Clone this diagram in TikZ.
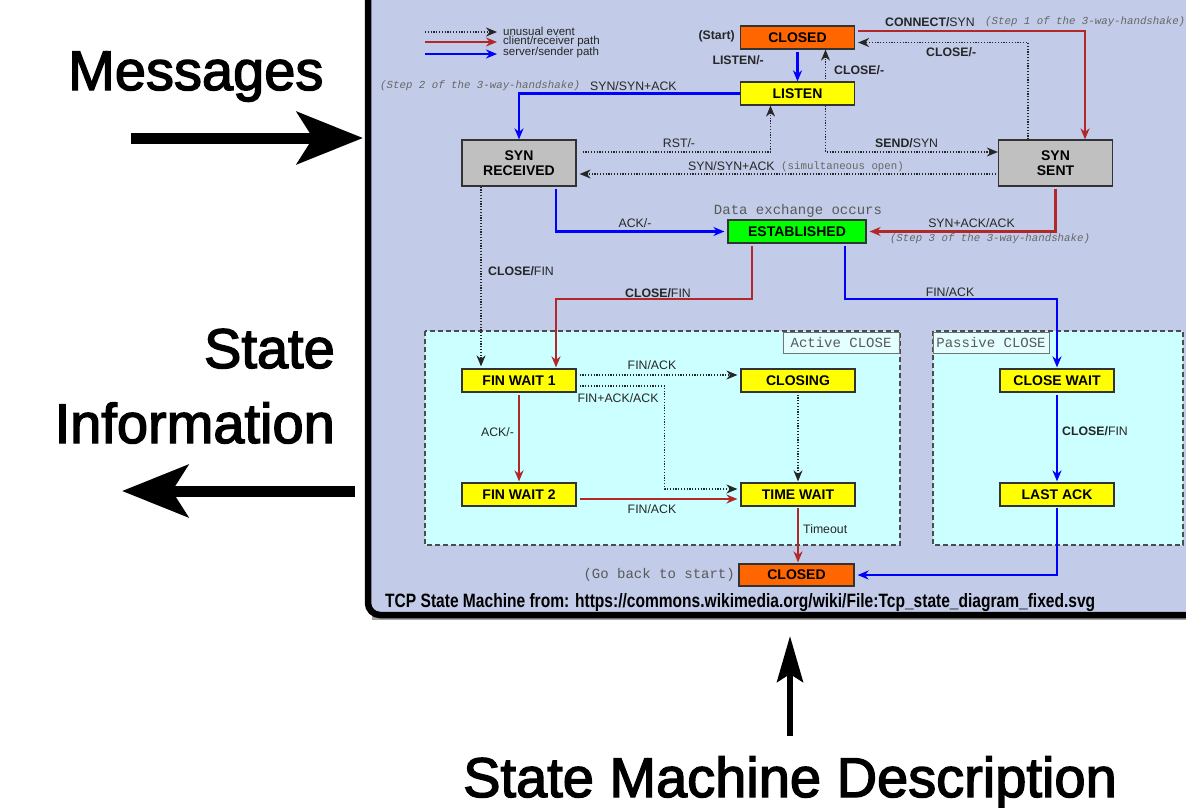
\documentclass[tikz,border=0pt]{standalone}
\usepackage{fontspec}
\setmainfont{Liberation Sans}
\newfontfamily\monof{Liberation Mono}
\newfontfamily\heavyf{Liberation Sans}[FakeBold=2.5]
\usepackage{graphicx}
\usetikzlibrary{arrows.meta,calc}

\definecolor{panel}{RGB}{194,204,232}
\definecolor{zone}{RGB}{204,255,255}
\definecolor{cliR}{RGB}{178,40,40}
\definecolor{srvB}{RGB}{0,0,255}
\definecolor{stOrange}{RGB}{255,102,0}
\definecolor{stYellow}{RGB}{255,255,0}
\definecolor{stGray}{RGB}{192,192,192}
\definecolor{stGreen}{RGB}{0,255,0}

\begin{document}
\begin{tikzpicture}[x=1pt,y=-1pt,
  stbox/.style={draw=black!80, line width=1.2pt, inner sep=0pt, align=center,
    font=\bfseries\fontsize{14}{15.5}\selectfont},
  st1/.style={stbox, minimum width=114pt, minimum height=23pt},
  st2/.style={stbox, minimum width=114pt, minimum height=46pt, fill=stGray},
  lbl/.style={inner sep=0pt, text=black!85, font=\fontsize{12.3}{13}\selectfont},
  blbl/.style={lbl, font=\bfseries\fontsize{12.3}{13}\selectfont},
  lgd/.style={inner sep=0pt, text=black!85, font=\fontsize{11.5}{12}\selectfont},
  cmt/.style={inner sep=0pt, text=black!60, font=\monof\itshape\fontsize{10.75}{12}\selectfont},
  mono/.style={inner sep=0pt, text=black!65, font=\monof\fontsize{14}{16}\selectfont},
  headS/.style={-{Stealth[length=11pt,width=9pt,inset=3.5pt]}},
  cli/.style={headS, draw=cliR, line width=2.1pt},
  srv/.style={headS, draw=srvB, line width=2.1pt},
  unu/.style={headS, draw=black!85, line width=1.3pt, dash pattern=on 1.2pt off 1.6pt},
  zonebox/.style={draw=black!70, fill=zone, line width=1.2pt, dash pattern=on 5pt off 3pt},
  zonelbl/.style={draw=black!55, fill=zone!55!white, line width=1pt, minimum width=116pt,
    minimum height=21pt, inner sep=0pt, font=\monof\fontsize{14}{16}\selectfont, text=black!65},
  big/.style={inner sep=0pt, font=\heavyf\fontsize{56}{60}\selectfont},
  bigarrow/.style={line width=11pt, -{Stealth[length=66pt,width=52pt,inset=16pt]}}
]
\useasboundingbox (0,0) rectangle (1186,808);
\clip (0,0) rectangle (1186,808);

% white page
\fill[white] (0,0) rectangle (1186,808);

% framed panel holding the state machine
\fill[black!35] (372,-40) rectangle (1240,620);
\draw[line width=6.5pt, fill=panel, rounded corners=12pt] (368,-40) rectangle (1240,615);

% close regions
\draw[zonebox] (425,331) rectangle (900,545);
\draw[zonebox] (933,331) rectangle (1183,545);
\node[zonelbl] (activeLbl) at (841,342.5) {Active CLOSE};
\node[zonelbl] (passiveLbl) at (991,342.5) {Passive CLOSE};

% legend
\coordinate (lgUa) at (425,32);  \coordinate (lgUb) at (497,32);
\coordinate (lgCa) at (425,42);  \coordinate (lgCb) at (497,42);
\coordinate (lgSa) at (425,54);  \coordinate (lgSb) at (497,54);
\draw[unu] (lgUa) -- (lgUb);
\draw[cli] (lgCa) -- (lgCb);
\draw[srv] (lgSa) -- (lgSb);
\node[lgd, anchor=west] (lgUt) at (503,31) {unusual event};
\node[lgd, anchor=west] (lgCt) at (503,41.5) {client/receiver path};
\node[lgd, anchor=west] (lgSt) at (503,53) {server/sender path};

% states
\node[st1, fill=stOrange] (closedTop) at (797.5,37.5) {CLOSED};
\node[st1, fill=stYellow] (listen) at (797.5,93.5) {LISTEN};
\node[st2] (synrcvd) at (519,163) {SYN\\RECEIVED};
\node[st2] (synsent) at (1055.5,163) {SYN\\SENT};
\node[st1, fill=stGreen, minimum width=138pt] (estab) at (797,231.5) {ESTABLISHED};
\node[st1, fill=stYellow] (finwait1) at (519,380.5) {FIN WAIT 1};
\node[st1, fill=stYellow] (closing) at (798,380.5) {CLOSING};
\node[st1, fill=stYellow] (finwait2) at (519,494.5) {FIN WAIT 2};
\node[st1, fill=stYellow] (timewait) at (798,494.5) {TIME WAIT};
\node[st1, fill=stYellow] (closewait) at (1057,380.5) {CLOSE WAIT};
\node[st1, fill=stYellow] (lastack) at (1057,494.5) {LAST ACK};
\node[st1, fill=stOrange, minimum width=115pt, minimum height=22pt] (closedBot) at (796.5,575) {CLOSED};

% side notes
\node[blbl, anchor=east] (startTxt) at (735,36) {(Start)};
\node[mono, anchor=east] (backTxt) at (735,575) {(Go back to start)};
\node[mono] (dataTxt) at (798,211) {Data exchange occurs};

% transitions
\draw[srv, shorten <=2pt] (closedTop.south) -- (listen.north);
\node[blbl, anchor=east] at (764,60) {LISTEN/-};

\draw[unu, shorten <=2pt] ($(listen.north)+(28,0)$) -- ($(closedTop.south)+(28,0)$);
\node[blbl, anchor=west] at (834,70) {CLOSE/-};

\draw[cli] ($(closedTop.east)+(3,-6.5)$) -| ($(synsent.north)+(29.5,0)$);
\node[lbl, anchor=west] at (885,22) {\textbf{CONNECT/}SYN};
\node[cmt, anchor=west] at (985,22) {(Step 1 of the 3-way-handshake)};

\draw[unu] ($(synsent.north)+(-27.5,0)$) |- ($(closedTop.east)+(3,5)$);
\node[blbl, anchor=west] at (926,52) {CLOSE/-};

\draw[srv] (listen.west) -| (synrcvd.north);
\node[lbl, anchor=west] at (590,86) {SYN/SYN+ACK};
\node[cmt, anchor=west] at (380,86) {(Step 2 of the 3-way-handshake)};

\draw[unu] ($(synrcvd.east)+(6,-11)$) -| ($(listen.south)+(-27,0)$);
\node[lbl] at (679,143) {RST/-};

\draw[unu] ($(listen.south)+(28,0)$) |- ($(synsent.west)+(0,-11)$);
\node[lbl, anchor=west] at (875,143) {\textbf{SEND/}SYN};

\draw[unu, shorten <=2pt] ($(synsent.west)+(0,11)$) -- ($(synrcvd.east)+(3,11)$);
\node[lbl, anchor=west] at (688,166.5) {SYN/SYN+ACK};
\node[lbl, anchor=west, font=\monof\fontsize{10.75}{12}\selectfont, text=black!60] at (781,166.5) {(simultaneous open)};

\draw[srv] ($(synrcvd.south)+(37,2)$) |- ($(estab.west)+(-3,0)$);
\node[lbl] at (635,223) {ACK/-};

\draw[cli] ($(synsent.south)+(0,2)$) |- ($(estab.east)+(3,0)$);
\node[lbl] at (971.5,223) {SYN+ACK/ACK};
\node[cmt] at (990,239) {(Step 3 of the 3-way-handshake)};

\draw[unu] ($(synrcvd.south)+(-38,0)$) -- ($(finwait1.north)+(-38,-2)$);
\node[lbl, anchor=west] at (488,271) {\textbf{CLOSE/}FIN};

\draw[cli] ($(estab.south)+(-45,2)$) -- ($(estab.south)+(-45,55)$) -| ($(finwait1.north)+(37,-1)$);
\node[lbl, anchor=west] at (625,293) {\textbf{CLOSE/}FIN};

\draw[srv] ($(estab.south)+(48,2)$) -- ($(estab.south)+(48,55)$) -| ($(closewait.north)+(0,-1)$);
\node[lbl] at (950,292) {FIN/ACK};

\draw[unu] ($(finwait1.east)+(3,-5.5)$) -- ($(closing.west)+(-3,-5.5)$);
\node[lbl] at (652,365) {FIN/ACK};

\draw[unu] ($(finwait1.east)+(3,5.5)$) -- ($(finwait1.east)+(88,5.5)$) |- ($(timewait.west)+(-3,-5.5)$);
\node[lbl] at (618,398) {FIN+ACK/ACK};

\draw[cli, shorten <=2pt] (finwait1.south) -- ($(finwait2.north)+(0,-1)$);
\node[lbl] at (497.5,432) {ACK/-};

\draw[unu, shorten <=2pt] (closing.south) -- ($(timewait.north)+(0,-1)$);

\draw[cli] ($(finwait2.east)+(3,4.5)$) -- ($(timewait.west)+(-3,4.5)$);
\node[lbl] at (652,509) {FIN/ACK};

\draw[cli, shorten <=1pt] (timewait.south) -- ($(timewait.south |- closedBot.north)+(0,-1)$);
\node[lbl, anchor=west] at (803,529) {Timeout};

\draw[srv, shorten <=2pt] (closewait.south) -- ($(lastack.north)+(0,-1)$);
\node[lbl, anchor=west] at (1062,431) {\textbf{CLOSE/}FIN};

\draw[srv, shorten <=1pt] (lastack.south) |- ($(closedBot.east)+(3,0)$);

% source line
\node[anchor=base west, inner sep=0pt] (srcTxt) at (385,607)
  {\resizebox{710pt}{14pt}{\bfseries TCP State Machine from: https://commons.wikimedia.org/wiki/File:Tcp\_state\_diagram\_fixed.svg}};

% outer annotations
\node[big, anchor=base west] (msgTxt) at (68,90) {Messages};
\coordinate (msgA) at (131,138);
\coordinate (msgB) at (363,138);
\draw[bigarrow] (msgA) -- (msgB);

\node[big, anchor=base east] (stateTxt) at (335,368) {State};
\node[big, anchor=base east] (infoTxt) at (335,443) {Information};
\coordinate (infA) at (355,491);
\coordinate (infB) at (122,491);
\draw[bigarrow] (infA) -- (infB);

\coordinate (smdA) at (790,736);
\coordinate (smdB) at (790,636);
\draw[line width=6pt, -{Stealth[length=46pt,width=26pt,inset=8pt]}] (smdA) -- (smdB);
\node[big, anchor=base] (smdTxt) at (790,797) {State Machine Description};
\end{tikzpicture}
\end{document}
